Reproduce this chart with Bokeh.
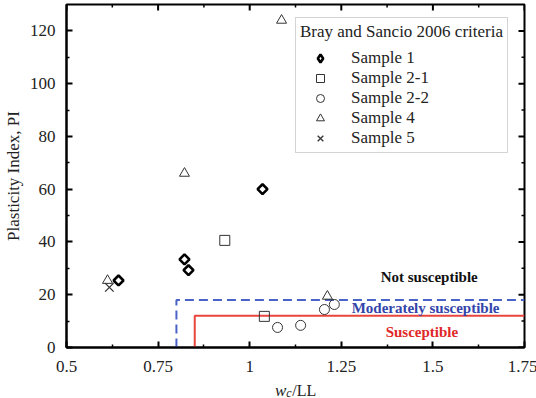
import math
from bokeh.plotting import figure
from bokeh.layouts import column
from bokeh.models import Range1d, FixedTicker, Legend, LegendItem
from bokeh.core.properties import value
from bokeh.embed import file_html
from bokeh.resources import INLINE

# ---- data ----
s1_x = [0.642, 0.822, 0.833, 1.035]
s1_y = [25.4, 33.4, 29.3, 60.0]
s21_x = [0.932, 1.040]
s21_y = [40.6, 11.8]
s22_x = [1.076, 1.139, 1.204, 1.231]
s22_y = [7.6, 8.4, 14.4, 16.3]
s4_x = [0.612, 0.822, 1.087, 1.212]
s4_y = [25.4, 66.0, 124.0, 19.4]
s5_x = [0.617]
s5_y = [22.8]

moderate_wc = 0.80
moderate_pi = 18
suscept_wc = 0.85
suscept_pi = 12
x_min, x_max = 0.5, 1.75
y_min, y_max = 0, 130

zone_labels = ["Not susceptible", "Moderately susceptible", "Susceptible"]
zone_x = [1.49, 1.48, 1.47]
zone_y = [26.6, 14.8, 5.7]
zone_colors = ["#111111", "#3344aa", "#e02828"]

x_ticks = [0.5, 0.75, 1.0, 1.25, 1.5, 1.75]
x_tick_labels = {0.5: "0.5", 0.75: "0.75", 1.0: "1", 1.25: "1.25", 1.5: "1.5", 1.75: "1.75"}
x_minor = [0.625, 0.875, 1.125, 1.375, 1.625]
y_ticks = [0, 20, 40, 60, 80, 100, 120]
y_minor = [10, 30, 50, 70, 90, 110]

# x axis title pieces: italic "w", subscript italic "c", then "/LL"
xlab_text = ["w", "c", "/LL"]
xlab_x = [1.100, 1.100, 1.116]
xlab_y = [8, 6, 8]
xlab_size = ["17px", "12px", "16px"]
xlab_style = ["italic", "italic", "normal"]
xlab_align = ["right", "left", "left"]

SERIF = "Liberation Serif"
TXT = "#222222"

p = figure(frame_width=458, frame_height=343, output_backend="svg", toolbar_location=None,
           x_range=Range1d(x_min, x_max), y_range=Range1d(y_min, y_max),
           min_border_left=65, min_border_right=13, min_border_top=4, min_border_bottom=33)
p.grid.visible = False
p.outline_line_color = "black"
p.outline_line_width = 2
p.background_fill_color = "white"
p.border_fill_color = "white"

def style_axis(ax):
    ax.axis_line_color = "black"
    ax.axis_line_width = 2
    ax.major_tick_in = 6
    ax.major_tick_out = 0
    ax.minor_tick_in = 3
    ax.minor_tick_out = 0
    ax.major_tick_line_width = 2
    ax.minor_tick_line_width = 1.5
    ax.major_tick_line_color = "black"
    ax.minor_tick_line_color = "black"
    ax.major_label_text_font = SERIF
    ax.major_label_text_color = TXT
    ax.major_label_text_font_size = "17px"

xa = p.xaxis[0]
xa.ticker = FixedTicker(ticks=x_ticks, minor_ticks=x_minor)
xa.major_label_overrides = x_tick_labels
style_axis(xa)
xa.major_label_standoff = 13

ya = p.yaxis[0]
ya.ticker = FixedTicker(ticks=y_ticks, minor_ticks=y_minor)
style_axis(ya)
ya.major_label_standoff = 11
ya.axis_label = "Plasticity Index, PI"
ya.axis_label_text_font = SERIF
ya.axis_label_text_font_size = "17px"
ya.axis_label_text_font_style = "normal"
ya.axis_label_text_color = TXT
ya.axis_label_standoff = 4

# mirrored inward ticks on top and right edges (half of each dash is clipped by the frame)
p.scatter(x_ticks, [y_max] * len(x_ticks), marker="dash", angle=math.pi / 2, size=12,
          line_color="black", line_width=2)
p.scatter(x_minor, [y_max] * len(x_minor), marker="dash", angle=math.pi / 2, size=6,
          line_color="black", line_width=1.5)
p.scatter([x_max] * len(y_ticks), y_ticks, marker="dash", size=12,
          line_color="black", line_width=2)
p.scatter([x_max] * len(y_minor), y_minor, marker="dash", size=6,
          line_color="black", line_width=1.5)

# ---- boundaries ----
p.line([moderate_wc, moderate_wc, x_max], [y_min, moderate_pi, moderate_pi],
       line_color="#4a63c8", line_width=2, line_dash="9 5")
p.line([suscept_wc, suscept_wc, x_max], [y_min, suscept_pi, suscept_pi],
       line_color="#e8453c", line_width=2)

# ---- zone labels ----
p.text(x=zone_x, y=zone_y, text=zone_labels, text_color=zone_colors,
       text_font=value(SERIF), text_font_size="15px", text_font_style="bold",
       text_align="center", text_baseline="middle")

# ---- points ----
mc = "#333333"
r1 = p.scatter(s1_x, s1_y, marker="square", angle=math.pi / 4, size=7, fill_color="white",
               line_color="black", line_width=2.6)
# legend-only glyph for Sample 1 (legend ignores marker angle)
r1_leg = p.scatter([float("nan")], [float("nan")], marker="diamond", size=10,
                   fill_color="white", line_color="black", line_width=2.6)
r21 = p.scatter(s21_x, s21_y, marker="square", size=10, fill_color=None,
                line_color=mc, line_width=1)
r22 = p.scatter(s22_x, s22_y, marker="circle", size=10, fill_color=None,
                line_color=mc, line_width=1)
r4 = p.scatter(s4_x, s4_y, marker="triangle", size=10, fill_color=None,
               line_color=mc, line_width=1)
r5 = p.scatter(s5_x, s5_y, marker="x", size=12, line_color=mc, line_width=1.3)

legend = Legend(items=[
    LegendItem(label="Sample 1", renderers=[r1_leg]),
    LegendItem(label="Sample 2-1", renderers=[r21]),
    LegendItem(label="Sample 2-2", renderers=[r22]),
    LegendItem(label="Sample 4", renderers=[r4]),
    LegendItem(label="Sample 5", renderers=[r5]),
], location=(229, 194))
legend.title = "Bray and Sancio 2006 criteria"
legend.title_text_font = SERIF
legend.title_text_font_size = "17px"
legend.title_text_font_style = "normal"
legend.title_text_color = TXT
legend.title_standoff = 6
legend.label_text_font = SERIF
legend.label_text_font_size = "17px"
legend.label_text_color = TXT
legend.label_height = 20
legend.glyph_height = 20
legend.glyph_width = 40
legend.label_standoff = 11
legend.spacing = 0
legend.padding = 4
legend.margin = 0
legend.border_line_color = "#aaaaaa"
legend.border_line_width = 1
legend.background_fill_alpha = 1
p.add_layout(legend, "center")

# ---- x axis title strip (shares the x scale of the main plot) ----
q = figure(frame_width=458, frame_height=18, output_backend="svg", toolbar_location=None,
           x_range=p.x_range, y_range=Range1d(0, 18),
           x_axis_location=None, y_axis_location=None,
           min_border_left=65, min_border_right=13, min_border_top=0, min_border_bottom=0)
q.grid.visible = False
q.outline_line_color = None
q.background_fill_color = "white"
q.border_fill_color = "white"
for t, xx, yy, sz, st, al in zip(xlab_text, xlab_x, xlab_y, xlab_size, xlab_style, xlab_align):
    q.text(x=[xx], y=[yy], text=[t], text_font=value(SERIF), text_font_size=sz,
           text_font_style=st, text_color=TXT, text_align=al, text_baseline="alphabetic")

layout = column(p, q, spacing=0)
open("out.html", "w").write(file_html(layout, INLINE))
